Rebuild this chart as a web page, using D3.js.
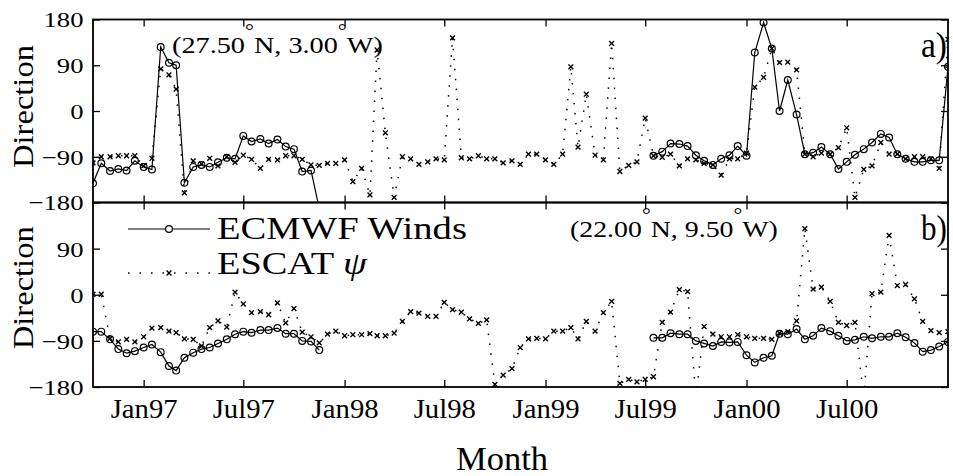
<!DOCTYPE html>
<html>
<head>
<meta charset="utf-8">
<script src="https://cdn.jsdelivr.net/npm/d3@7"></script>
<style>
  body { margin: 0; background: #fff; }
  svg { display: block; }
</style>
</head>
<body>
<svg id="chart" width="953" height="476"></svg>
<script>
// Wind direction (degrees), semi-monthly samples (1st and 16th of each month),
// from 1 Oct 1996 to 1 Jan 2001. null = no sample.
const N = null;

// Panel a) 27.50°N, 3.00°W
const ecmwfA = [
  -142, -103, -118, -114, -117, -98, -110, -115, 126, 95, 90, -141, -110, -106, -110, -101,
  -92, -94, -49, -60, -55, -64, -56, -70, -75, -119, -117, -192,
  N, N, N, N, N, N, N, N, N, N, N, N, N, N, N, N, N, N, N, N,
  N, N, N, N, N, N, N, N, N, N, N, N, N, N, N, N, N, N, N,
  -88, -80, -64, -65, -69, -87, -98, -106, -94, -87, -69, -88, 115, 174, 123, 0,
  61, -7, -85, -82, -71, -85, -114, -100, -86, -75, -62, -45, -52, -85, -94, -100,
  -100, -97, -97, 87
];
const escatA = [
  -102, -90, -90, -88, -88, -88, -108, -93, 83, 71, 43, -161, -98, -104, -93, -108,
  -90, -101, -87, -95, -113, -95, -96, -88, -88, -95, -106, -107, -103, -103, -96, -139,
  -113, -165, 120, -43, -170, -90, -94, -105, -100, -94, -96, 144, -92, -94, -88, -94,
  -94, -102, -98, -105, -85, -85, -96, -105, -85, 87, -71, 33, -87, -96, 133, -119,
  -107, -100, -14, -88, -91, -85, -108, -94, -96, -103, -106, -126, -94, -94, -83, 47,
  66, 123, 95, 96, 81, -85, -90, -83, -85, -72, -33, -170, -115, -108, -62, -85,
  -85, -94, -90, -90, -94, -113, 141
];

// Panel b) 22.00°N, 9.50°W
const ecmwfB = [
  -72, -72, -87, -106, -114, -110, -103, -97, -112, -139, -148, -123, -113, -106, -103, -95,
  -87, -77, -72, -74, -69, -69, -65, -76, -76, -90, -91, -108,
  N, N, N, N, N, N, N, N, N, N, N, N, N, N, N, N, N, N, N, N,
  N, N, N, N, N, N, N, N, N, N, N, N, N, N, N, N, N, N, N,
  -84, -84, -75, -77, -77, -90, -95, -100, -92, -93, -92, -118, -132, -123, -119, -76,
  -77, -67, -87, -80, -65, -71, -80, -90, -88, -82, -85, -82, -82, -75, -83, -94,
  -111, -108, -101, -92
];
const escatB = [
  1, 1, -85, -92, -87, -92, -82, -65, -64, -71, -74, -86, -87, -100, -64, -51,
  -63, 5, -18, -35, -33, -39, -16, -55, -27, -73, -82, -94, -77, -71, -80, -78,
  -78, -76, -80, -80, -75, -52, -33, -36, -42, -42, -15, -29, -34, -47, -56, -49,
  -175, -157, -144, -103, -86, -85, -86, -71, -71, -64, -86, -52, -71, -35, -13, -173,
  -165, -170, -165, -160, -54, -34, 10, 6, -200, -62, -77, -82, -82, -78, -82, -85,
  -85, -87, -75, -72, -51, 129, 11, 15, -13, -54, -60, -54, -200, 2, 5, 116,
  18, 20, -8, -52, -70, -74, -72
];

const tickLabels = ["Jan97", "Jul97", "Jan98", "Jul98", "Jan99", "Jul99", "Jan00", "Jul00"];
const tickDates = [[1997, 0], [1997, 6], [1998, 0], [1998, 6], [1999, 0], [1999, 6], [2000, 0], [2000, 6]];
const yTicksA = [180, 90, 0, -90, -180];
const yTicksB = [90, 0, -90, -180];
const seriesNames = ["ECMWF Winds", "ESCAT"];

const FONT = "'Liberation Serif', Tinos, 'Nimbus Roman', 'Nimbus Roman No9 L', FreeSerif, " +
  "'Times New Roman', Times, 'DejaVu Serif', serif";

// sample dates: even index -> 1st of month, odd index -> 16th
const dates = ecmwfA.map((_, i) => new Date(1996, 9 + Math.floor(i / 2), i % 2 ? 16 : 1));

const svg = d3.select("#chart").attr("font-family", FONT);

// wide serif fallbacks have taller capitals than Times; scale sizes so glyph heights stay alike
const probe = svg.append("text").attr("font-size", 100).text("0000000000");
const digitEm = probe.node().getComputedTextLength() / 1000;
probe.remove();
const fs = v => v * (digitEm > 0.56 ? 0.9 : 1);

// stretch a text horizontally about ax so it spans the given width
function fitWidth(sel, width, ax) {
  const w = sel.node().getComputedTextLength();
  const s = width / w;
  sel.attr("transform", `translate(${ax},0) scale(${s},1) translate(${-ax},0)`);
  return s;
}

const left = 93, right = 948;
const panels = [
  { id: "a", top: 19.5, bottom: 202.5, ecmwf: ecmwfA, escat: escatA, yTicks: yTicksA,
    place: ["(27.50", "N, 3.00", "W)"], placeX: 172, placeY: 53, placeW: 211,
    tag: "a)", titleShift: -4.5 },
  { id: "b", top: 202.5, bottom: 387, ecmwf: ecmwfB, escat: escatB, yTicks: yTicksB,
    place: ["(22.00", "N, 9.50", "W)"], placeX: 570, placeY: 237, placeW: 208,
    tag: "b)", titleShift: -7 }
];

const x = d3.scaleTime()
  .domain([new Date(1996, 9, 1), new Date(2001, 0, 1)])
  .range([left, right]);
const xTickVals = tickDates.map(([yy, mm]) => new Date(yy, mm, 1));
const fmtTick = d => tickLabels[xTickVals.findIndex(t => +t === +d)];

const defs = svg.append("defs");
const crossPath = "M-2.4,-2.4L2.4,2.4M-2.4,2.4L2.4,-2.4";

function styleAxis(sel) {
  sel.attr("font-family", FONT).attr("font-size", null);
  sel.select(".domain").remove();
  sel.selectAll("line").attr("stroke", "#000").attr("stroke-width", 1.3);
  sel.selectAll("text").attr("fill", "#000").attr("font-family", FONT);
}

let yLabelScale = null;

panels.forEach((p, pi) => {
  const y = d3.scaleLinear().domain([-180, 180]).range([p.bottom, p.top]);
  const g = svg.append("g").attr("class", "panel-" + p.id);

  defs.append("clipPath").attr("id", "clip-" + p.id)
    .append("rect").attr("x", left).attr("y", p.top)
    .attr("width", right - left).attr("height", p.bottom - p.top);

  // left axis with labels
  const ay = g.append("g").attr("transform", `translate(${left},0)`)
    .call(d3.axisLeft(y).tickValues(p.yTicks).tickSizeInner(-7).tickSizeOuter(0).tickPadding(9)
      .tickFormat(d => d < 0 ? "\u2212" + Math.abs(d) : String(d)));
  styleAxis(ay);
  const yTexts = ay.selectAll("text").attr("font-size", fs(22)).attr("dy", "0.34em");
  if (yLabelScale === null) {
    const t180 = yTexts.filter(d => d === 180);
    yLabelScale = 40 / t180.node().getComputedTextLength();
  }
  yTexts.attr("transform", `scale(${yLabelScale},1)`).attr("x", -9.5 / yLabelScale);

  // right axis: ticks only
  const ar = g.append("g").attr("transform", `translate(${right},0)`)
    .call(d3.axisRight(y).tickValues(yTicksA).tickSizeInner(-7).tickSizeOuter(0).tickFormat(""));
  styleAxis(ar);

  // top & bottom month ticks
  const at = g.append("g").attr("transform", `translate(0,${p.top})`)
    .call(d3.axisTop(x).tickValues(xTickVals).tickSizeInner(-7).tickSizeOuter(0).tickFormat(""));
  styleAxis(at);

  const ab = g.append("g").attr("transform", `translate(0,${p.bottom})`)
    .call(d3.axisBottom(x).tickValues(xTickVals).tickSizeInner(-7).tickSizeOuter(0).tickPadding(31)
      .tickFormat(pi === 1 ? fmtTick : ""));
  styleAxis(ab);
  if (pi === 1) {
    const xt = ab.selectAll("text").attr("font-size", fs(27)).attr("dy", null);
    const xs = 67 / xt.filter(d => +d === +xTickVals[0]).node().getComputedTextLength();
    xt.attr("transform", `scale(${xs},1)`);
  }

  // frame
  g.append("rect").attr("x", left).attr("y", p.top)
    .attr("width", right - left).attr("height", p.bottom - p.top)
    .attr("fill", "none").attr("stroke", "#000").attr("stroke-width", 1.8);

  const plot = g.append("g").attr("clip-path", `url(#clip-${p.id})`);
  const asObjs = arr => arr.map((v, i) => ({ d: dates[i], v }));
  const pts = arr => asObjs(arr).filter(o => o.v !== null);
  const line = d3.line().defined(o => o.v !== null).x(o => x(o.d)).y(o => y(o.v));

  // ESCAT: dotted line with × markers
  plot.append("path").datum(asObjs(p.escat)).attr("d", line)
    .attr("fill", "none").attr("stroke", "#000").attr("stroke-width", 1.5)
    .attr("stroke-dasharray", "1.5,8.5");
  plot.selectAll(".xm").data(pts(p.escat)).join("path").attr("class", "xm")
    .attr("transform", o => `translate(${x(o.d)},${y(o.v)})`)
    .attr("d", crossPath).attr("fill", "none").attr("stroke", "#000").attr("stroke-width", 1.4);

  // ECMWF: solid line with open circles
  plot.append("path").datum(asObjs(p.ecmwf)).attr("d", line)
    .attr("fill", "none").attr("stroke", "#000").attr("stroke-width", 1.2);
  plot.selectAll(".cm").data(pts(p.ecmwf)).join("circle").attr("class", "cm")
    .attr("cx", o => x(o.d)).attr("cy", o => y(o.v)).attr("r", 3.4)
    .attr("fill", "none").attr("stroke", "#000").attr("stroke-width", 1.2);

  // location label (degree signs raised above the text)
  const t = g.append("text").attr("x", p.placeX).attr("y", p.placeY).attr("font-size", fs(24));
  t.append("tspan").text(p.place[0]);
  t.append("tspan").attr("dy", -16).attr("font-size", fs(19)).text("\u00B0");
  t.append("tspan").attr("dy", 16).text(p.place[1]);
  t.append("tspan").attr("dy", -16).attr("font-size", fs(19)).text("\u00B0");
  t.append("tspan").attr("dy", 16).text(p.place[2]);
  fitWidth(t, p.placeW, p.placeX);

  // panel tag
  const tag = g.append("text").attr("x", 921).attr("y", p.top + 38)
    .attr("font-size", fs(36)).text(p.tag);
  fitWidth(tag, 26, 921);

  // y-axis title
  const cy = (p.top + p.bottom) / 2 + p.titleShift;
  const yt = g.append("text").attr("text-anchor", "middle").attr("font-size", fs(30)).text("Direction");
  const ys = 123 / yt.node().getComputedTextLength();
  yt.attr("transform", `translate(33,${cy}) rotate(-90) scale(${ys},1)`);
});

// x-axis title
const mt = svg.append("text").attr("x", 456).attr("y", 470)
  .attr("font-size", fs(33)).text("Month");
fitWidth(mt, 92, 456);

// legend
const lg = svg.append("g");
lg.append("line").attr("x1", 128).attr("x2", 210).attr("y1", 229).attr("y2", 229)
  .attr("stroke", "#000").attr("stroke-width", 1.2);
lg.append("circle").attr("cx", 169).attr("cy", 229).attr("r", 3.4)
  .attr("fill", "#fff").attr("stroke", "#000").attr("stroke-width", 1.2);
lg.append("line").attr("x1", 128).attr("x2", 210).attr("y1", 273).attr("y2", 273)
  .attr("stroke", "#000").attr("stroke-width", 1.5).attr("stroke-dasharray", "1.5,10");
lg.append("path").attr("transform", "translate(169,273)").attr("d", crossPath)
  .attr("fill", "none").attr("stroke", "#000").attr("stroke-width", 1.4);
const l1 = lg.append("text").attr("x", 217).attr("y", 239).attr("font-size", fs(32))
  .text(seriesNames[0]);
fitWidth(l1, 250, 217);
const l2 = lg.append("text").attr("x", 217).attr("y", 274).attr("font-size", fs(32));
l2.append("tspan").text(seriesNames[1] + " ");
l2.append("tspan").attr("font-style", "italic").text("\u03C8");
fitWidth(l2, 150, 217);
</script>
</body>
</html>
